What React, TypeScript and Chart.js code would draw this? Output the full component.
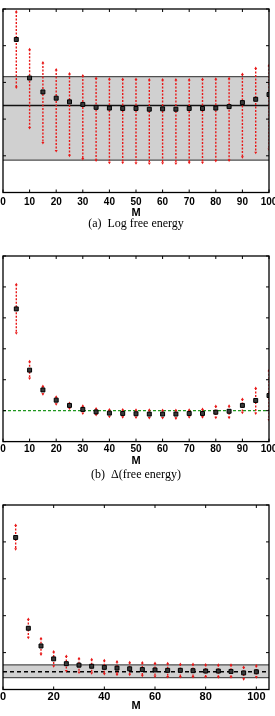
import React, { useEffect, useRef } from 'react';
import { Chart, registerables } from 'chart.js';

Chart.register(...registerables);

// ---------- data ----------
const mValues = [5, 10, 15, 20, 25, 30, 35, 40, 45, 50, 55, 60, 65, 70, 75, 80, 85, 90, 95, 100];

// (a) Log free energy
const logMean = [4.17, 3.12, 2.74, 2.57, 2.47, 2.40, 2.32, 2.30, 2.29, 2.29, 2.27, 2.28, 2.27, 2.29, 2.29, 2.30, 2.34, 2.45, 2.54, 2.67];
const logHigh = [4.93, 3.90, 3.54, 3.35, 3.24, 3.19, 3.12, 3.10, 3.09, 3.09, 3.08, 3.08, 3.08, 3.08, 3.09, 3.10, 3.11, 3.23, 3.39, 3.47];
const logLow = [2.86, 1.76, 1.35, 1.13, 1.00, 0.91, 0.87, 0.81, 0.81, 0.80, 0.79, 0.80, 0.79, 0.81, 0.81, 0.86, 0.87, 0.96, 1.08, 1.17];
const logBand = [0.88, 3.16];
const logRef = 2.37;

// (b) Delta(free energy)
const deltaMean = [4.29, 2.31, 1.67, 1.34, 1.17, 1.04, 0.96, 0.92, 0.91, 0.90, 0.89, 0.89, 0.89, 0.91, 0.91, 0.95, 0.98, 1.17, 1.33, 1.49];
const deltaHigh = [5.09, 2.60, 1.80, 1.45, 1.25, 1.16, 1.07, 1.04, 1.04, 1.03, 1.03, 1.02, 1.02, 1.03, 1.05, 1.15, 1.16, 1.38, 1.73, 2.31];
const deltaLow = [3.50, 2.04, 1.53, 1.21, 1.07, 0.91, 0.86, 0.80, 0.79, 0.78, 0.76, 0.76, 0.75, 0.79, 0.79, 0.77, 0.77, 0.93, 0.91, 0.70];
const deltaRef = 1.0;

// (c) third panel
const cMean = [4.12, 1.66, 1.18, 0.83, 0.70, 0.66, 0.63, 0.60, 0.58, 0.56, 0.54, 0.53, 0.52, 0.52, 0.51, 0.50, 0.50, 0.49, 0.45, 0.48];
const cHigh = [4.46, 1.91, 1.39, 1.03, 0.91, 0.85, 0.82, 0.79, 0.76, 0.74, 0.73, 0.72, 0.71, 0.69, 0.69, 0.68, 0.67, 0.67, 0.61, 0.65];
const cLow = [3.80, 1.40, 0.95, 0.63, 0.50, 0.46, 0.44, 0.42, 0.40, 0.40, 0.37, 0.35, 0.34, 0.34, 0.34, 0.34, 0.33, 0.33, 0.28, 0.33];
const cBand = [0.32, 0.67];
const cRef = 0.48;

// ticks
const xTicksAB = [0, 10, 20, 30, 40, 50, 60, 70, 80, 90, 100];
const xTicksC = [0, 20, 40, 60, 80, 100];
const yTicksA = [0, 1, 2, 3, 4, 5];
const yTicksB = [0, 1, 2, 3, 4, 5, 6];
const yTicksC = [0, 1, 2, 3, 4, 5];

const captionA = '(a)  Log free energy';
const captionB = '(b)  \u0394(free energy)';
const axisTitle = 'M';

// ---------- styles ----------
const RED = 'rgb(232, 24, 24)';

type Spec = {
  top: number;
  height: number;
  padTop: number;
  mean: number[];
  low: number[];
  high: number[];
  band?: number[];
  ref?: number;
  refColor?: string;
  refDash?: number[];
  xMax: number;
  xTicks: number[];
  yMax: number;
  yTicks: number[];
  caption?: string;
  axisHeight: number;
  tickPad: number;
  tickSize: number;
  mPad: number;
  titlePadBottom: number;
};

function decorPlugin(spec: Spec) {
  return {
    id: 'decor',
    beforeDatasetsDraw(chart: any) {
      const { ctx, chartArea: ca, scales } = chart;
      const x = scales.x;
      const y = scales.y;
      ctx.save();
      ctx.beginPath();
      ctx.rect(ca.left, ca.top, ca.right - ca.left, ca.bottom - ca.top);
      ctx.clip();
      if (spec.band) {
        const y0 = y.getPixelForValue(spec.band[0]);
        const y1 = y.getPixelForValue(spec.band[1]);
        ctx.fillStyle = '#d0d0d0';
        ctx.fillRect(ca.left, y1, ca.right - ca.left, y0 - y1);
        ctx.strokeStyle = '#505050';
        ctx.lineWidth = 1.2;
        ctx.beginPath();
        ctx.moveTo(ca.left, y0);
        ctx.lineTo(ca.right, y0);
        ctx.moveTo(ca.left, y1);
        ctx.lineTo(ca.right, y1);
        ctx.stroke();
      }
      if (spec.ref !== undefined) {
        const yr = y.getPixelForValue(spec.ref);
        ctx.strokeStyle = spec.refColor || '#000';
        ctx.lineWidth = 1.4;
        ctx.setLineDash(spec.refDash || []);
        ctx.beginPath();
        ctx.moveTo(ca.left, yr);
        ctx.lineTo(ca.right, yr);
        ctx.stroke();
        ctx.setLineDash([]);
      }
      // error bars
      ctx.strokeStyle = RED;
      ctx.fillStyle = RED;
      ctx.lineWidth = 1.4;
      for (let i = 0; i < mValues.length; i++) {
        const px = x.getPixelForValue(mValues[i]);
        const pt = y.getPixelForValue(spec.high[i]);
        const pb = y.getPixelForValue(spec.low[i]);
        ctx.setLineDash([2, 1.5]);
        ctx.beginPath();
        ctx.moveTo(px, pt);
        ctx.lineTo(px, pb);
        ctx.stroke();
        ctx.setLineDash([]);
        ctx.beginPath();
        ctx.moveTo(px, pt - 1.5);
        ctx.lineTo(px - 1.5, pt + 1);
        ctx.lineTo(px + 1.5, pt + 1);
        ctx.closePath();
        ctx.fill();
        ctx.beginPath();
        ctx.moveTo(px, pb + 1.5);
        ctx.lineTo(px - 1.5, pb - 1);
        ctx.lineTo(px + 1.5, pb - 1);
        ctx.closePath();
        ctx.fill();
      }
      ctx.restore();
    },
    afterDraw(chart: any) {
      const { ctx, chartArea: ca, scales } = chart;
      const x = scales.x;
      const y = scales.y;
      ctx.save();
      ctx.strokeStyle = '#000';
      ctx.lineWidth = 1.3;
      ctx.strokeRect(ca.left, ca.top, ca.right - ca.left, ca.bottom - ca.top);
      ctx.lineWidth = 1;
      const tl = 3;
      ctx.beginPath();
      x.ticks.forEach((t: any) => {
        const px = x.getPixelForValue(t.value);
        ctx.moveTo(px, ca.bottom);
        ctx.lineTo(px, ca.bottom - tl);
        ctx.moveTo(px, ca.top);
        ctx.lineTo(px, ca.top + tl);
      });
      y.ticks.forEach((t: any) => {
        const py = y.getPixelForValue(t.value);
        ctx.moveTo(ca.left, py);
        ctx.lineTo(ca.left + tl, py);
        ctx.moveTo(ca.right, py);
        ctx.lineTo(ca.right - tl, py);
      });
      ctx.stroke();
      ctx.restore();
    },
  };
}

function Panel({ spec }: { spec: Spec }) {
  const ref = useRef<HTMLCanvasElement | null>(null);
  useEffect(() => {
    if (!ref.current) return;
    const chart = new Chart(ref.current, {
      type: 'scatter',
      data: {
        datasets: [
          {
            data: mValues.map((m, i) => ({ x: m, y: spec.mean[i] })),
            pointStyle: 'rect',
            pointRadius: 2.8,
            pointBackgroundColor: '#3a3a3a',
            pointBorderColor: '#000',
            pointBorderWidth: 1,
            showLine: false,
          },
        ],
      },
      options: {
        responsive: false,
        animation: false,
        devicePixelRatio: 1,
        events: [],
        layout: {
          autoPadding: false,
          padding: { top: spec.padTop, left: 3, right: 6, bottom: 0 },
        },
        plugins: {
          legend: { display: false },
          tooltip: { enabled: false },
          title: {
            display: !!spec.caption,
            text: spec.caption || '',
            position: 'bottom',
            color: '#000',
            font: { family: '"Liberation Serif", "Times New Roman", serif', size: 12, weight: 'normal', lineHeight: 1.2 },
            padding: { top: 0, bottom: spec.titlePadBottom },
          },
        },
        scales: {
          x: {
            type: 'linear',
            min: 0,
            max: spec.xMax,
            grid: { display: false, drawTicks: false },
            border: { display: false },
            afterBuildTicks: (scale: any) => {
              scale.ticks = spec.xTicks.map((v) => ({ value: v }));
            },
            afterFit: (scale: any) => {
              scale.height = spec.axisHeight;
              scale.paddingLeft = 0;
              scale.paddingRight = 0;
            },
            ticks: {
              color: '#000',
              padding: spec.tickPad,
              maxRotation: 0,
              autoSkip: false,
              font: { family: '"Liberation Sans", Arial, sans-serif', size: spec.tickSize, weight: 'bold', lineHeight: 1 },
            },
            title: {
              display: true,
              text: axisTitle,
              color: '#000',
              font: { family: '"Liberation Sans", Arial, sans-serif', size: 11, weight: 'bold', lineHeight: 1 },
              padding: { top: 0, bottom: spec.mPad },
            },
          },
          y: {
            type: 'linear',
            display: false,
            min: 0,
            max: spec.yMax,
            afterBuildTicks: (scale: any) => {
              scale.ticks = spec.yTicks.map((v) => ({ value: v }));
            },
          },
        },
      },
      plugins: [decorPlugin(spec)],
    } as any);
    return () => chart.destroy();
  }, [spec]);
  return (
    <div style={{ position: 'absolute', left: 0, top: spec.top, width: 275, height: spec.height }}>
      <canvas ref={ref} width={275} height={spec.height} style={{ display: 'block' }} />
    </div>
  );
}

const specA: Spec = {
  top: 0, height: 232, padTop: 9,
  mean: logMean, low: logLow, high: logHigh,
  band: logBand, ref: logRef, refColor: '#111', refDash: [],
  xMax: 100, xTicks: xTicksAB, yMax: 5, yTicks: yTicksA,
  caption: captionA, axisHeight: 24.6, tickPad: 4.5, tickSize: 10, mPad: -1, titlePadBottom: 0.5,
};

const specB: Spec = {
  top: 240, height: 242, padTop: 16,
  mean: deltaMean, low: deltaLow, high: deltaHigh,
  ref: deltaRef, refColor: 'rgb(30, 150, 30)', refDash: [3, 2],
  xMax: 100, xTicks: xTicksAB, yMax: 6, yTicks: yTicksB,
  caption: captionB, axisHeight: 26, tickPad: 3, tickSize: 10, mPad: 1, titlePadBottom: 0,
};

const specC: Spec = {
  top: 482, height: 234, padTop: 23,
  mean: cMean, low: cLow, high: cHigh,
  band: cBand, ref: cRef, refColor: '#000', refDash: [4, 3],
  xMax: 105, xTicks: xTicksC, yMax: 5, yTicks: yTicksC,
  axisHeight: 26.5, tickPad: 1.5, tickSize: 11, mPad: 5, titlePadBottom: 0,
};

export default function App() {
  return (
    <div style={{ position: 'absolute', left: 0, top: 0, width: 275, height: 716, background: '#fff', overflow: 'hidden' }}>
      <Panel spec={specA} />
      <Panel spec={specB} />
      <Panel spec={specC} />
    </div>
  );
}
